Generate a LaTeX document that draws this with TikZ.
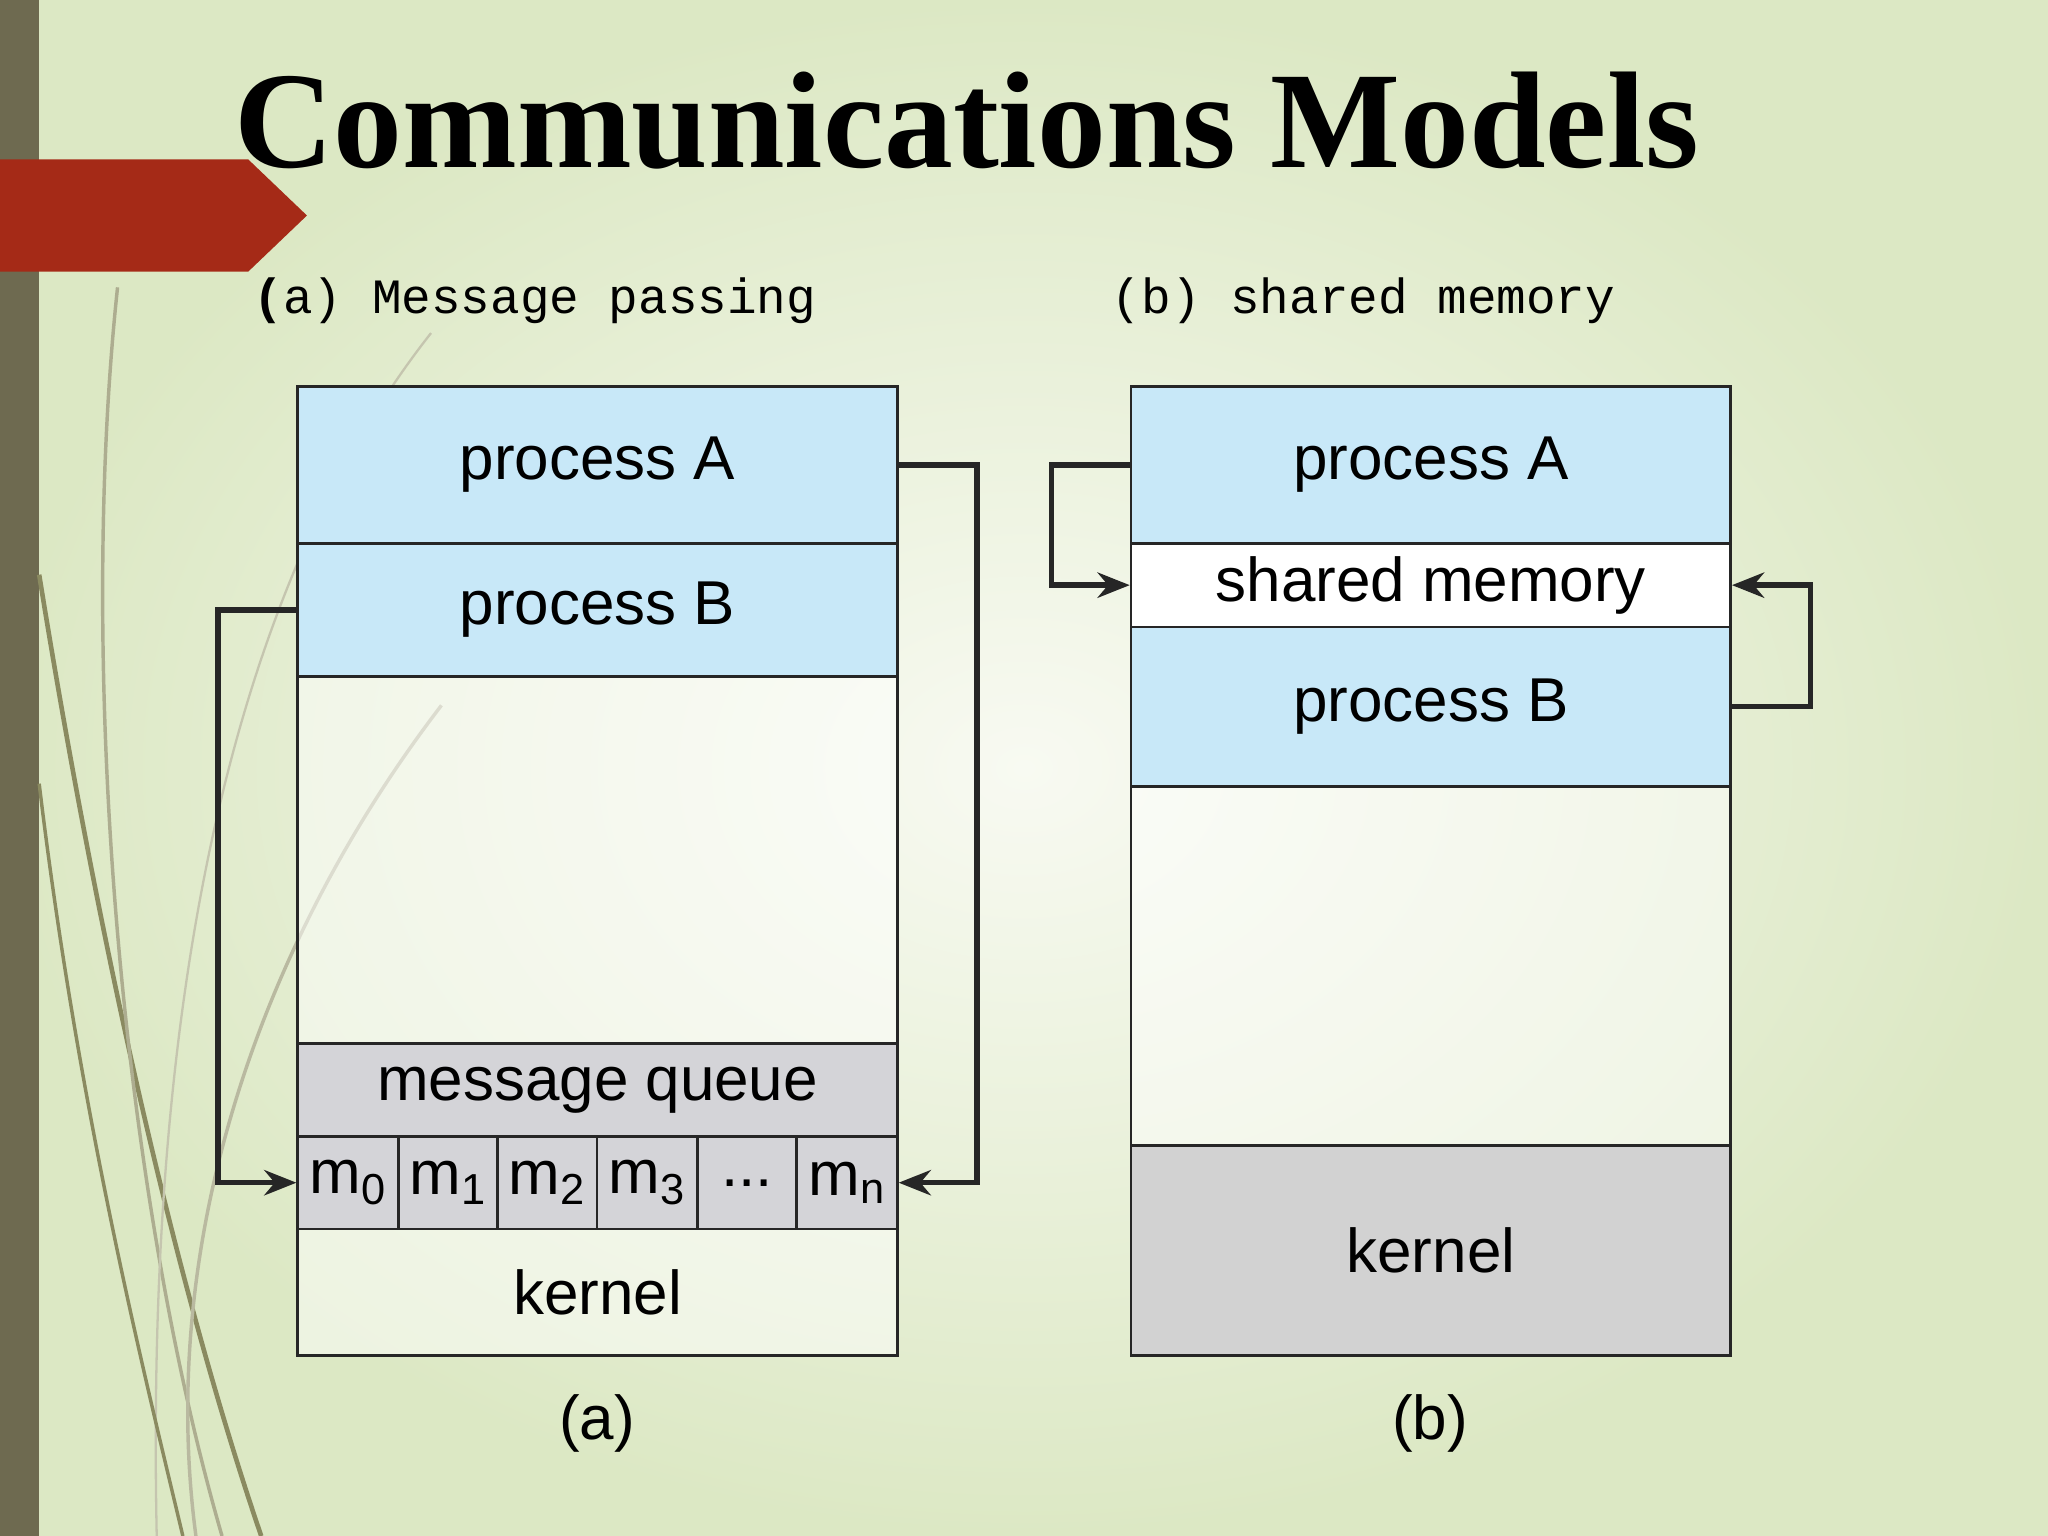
\documentclass[tikz,border=0pt]{standalone}
\usepackage{fontspec}
\setmainfont{Liberation Sans}
\newfontfamily\ttl{Liberation Serif}
\newfontfamily\mono{Liberation Mono}
\usetikzlibrary{arrows.meta}
\definecolor{bgA}{HTML}{F8FAF2}
\definecolor{bgB}{HTML}{DCE8C4}
\definecolor{bar}{HTML}{6E6A50}
\definecolor{redarr}{HTML}{A52A17}
\definecolor{proc}{HTML}{C8E8F8}
\definecolor{grayq}{HTML}{D4D4D8}
\definecolor{grayk}{HTML}{D2D2D2}
\definecolor{grass}{HTML}{8A8A60}
\begin{document}
\begin{tikzpicture}[x=0.02cm,y=-0.02cm,
  cell/.style={draw=black!85,line width=1.2pt,minimum width=459*0.02cm,inner sep=0pt,font=\fontsize{27}{27}\selectfont},
  mcell/.style={draw=black!85,line width=1.2pt,fill=grayq,inner sep=0pt,minimum height=71*0.02cm,font=\fontsize{27}{27}\selectfont},
  conn/.style={line width=2.4pt,draw=black!85,-{Stealth[length=14pt,width=11pt]}},
  lbl/.style={font=\fontsize{27}{27}\selectfont}]
\useasboundingbox (0,0) rectangle (1568,1176);
\shade[inner color=bgA,outer color=bgB] (0,0) rectangle (1568,1176);
\fill[bar] (0,0) rectangle (30,1176);
\fill[redarr] (0,122) -- (190,122) -- (235,165) -- (190,208) -- (0,208) -- cycle;
% decorative grass
\draw[grass,line width=2pt] (30,440) .. controls (80,750) and (140,1000) .. (200,1176);
\draw[grass!70,line width=1.5pt] (90,220) .. controls (60,500) and (90,900) .. (170,1176);
\draw[grass!60,line width=1.5pt] (338,540) .. controls (200,720) and (120,950) .. (150,1176);
\draw[grass!50,line width=1pt] (330,255) .. controls (200,420) and (110,700) .. (120,1176);
\draw[grass,line width=1.5pt] (30,600) .. controls (60,850) and (110,1050) .. (140,1176);
% title
\node[font=\ttl\bfseries\fontsize{60}{60}\selectfont,anchor=base] (title) at (740,128) {Communications Models};
\node[font=\mono\fontsize{21.5}{22}\selectfont,anchor=base west] (sa) at (188,240) {\textbf{(}a) Message passing};
\node[font=\mono\fontsize{21.5}{22}\selectfont,anchor=base west] (sb) at (845,240) {(b) shared memory};
% left diagram
\node[cell,fill=proc,minimum height=120*0.02cm] (pA) at (457.5,356) {process A};
\node[cell,fill=proc,minimum height=102*0.02cm] (pB) at (457.5,467) {process B};
\node[cell,fill=white,fill opacity=0.5,text opacity=1,minimum height=281*0.02cm] (emA) at (457.5,658.5) {};
\node[cell,fill=grayq,minimum height=71*0.02cm] (mq) at (457.5,834.5) {message queue};
\node[mcell,minimum width=77*0.02cm] (m0) at (266.5,905.5) {m\textsubscript{0}};
\node[mcell,minimum width=76*0.02cm] (m1) at (343,905.5) {m\textsubscript{1}};
\node[mcell,minimum width=76*0.02cm] (m2) at (419,905.5) {m\textsubscript{2}};
\node[mcell,minimum width=77*0.02cm] (m3) at (495.5,905.5) {m\textsubscript{3}};
\node[mcell,minimum width=76*0.02cm] (md) at (572,905.5) {...};
\node[mcell,minimum width=77*0.02cm] (mn) at (648.5,905.5) {m\textsubscript{n}};
\node[cell,fill=white,fill opacity=0.5,text opacity=1,minimum height=97*0.02cm] (kA) at (457.5,989.5) {kernel};
\draw[conn] (pA.east) -- ++(60,0) |- (mn.east);
\draw[conn] (pB.west) -- ++(-60,0) |- (m0.west);
\node[lbl] (la) at (457,1090) {(a)};
% right diagram
\node[cell,fill=proc,minimum height=120*0.02cm] (qA) at (1095.5,356) {process A};
\node[cell,fill=white,minimum height=64*0.02cm] (sm) at (1095.5,448) {shared memory};
\node[cell,fill=proc,minimum height=122*0.02cm] (qB) at (1095.5,541) {process B};
\node[cell,fill=white,fill opacity=0.5,text opacity=1,minimum height=275*0.02cm] (emB) at (1095.5,739.5) {};
\node[cell,fill=grayk,minimum height=161*0.02cm] (kB) at (1095.5,957.5) {kernel};
\draw[conn] (qA.west) -- ++(-60,0) |- (sm.west);
\draw[conn] (qB.east) -- ++(60,0) |- (sm.east);
\node[lbl] (lb) at (1095,1090) {(b)};
\end{tikzpicture}
\end{document}
